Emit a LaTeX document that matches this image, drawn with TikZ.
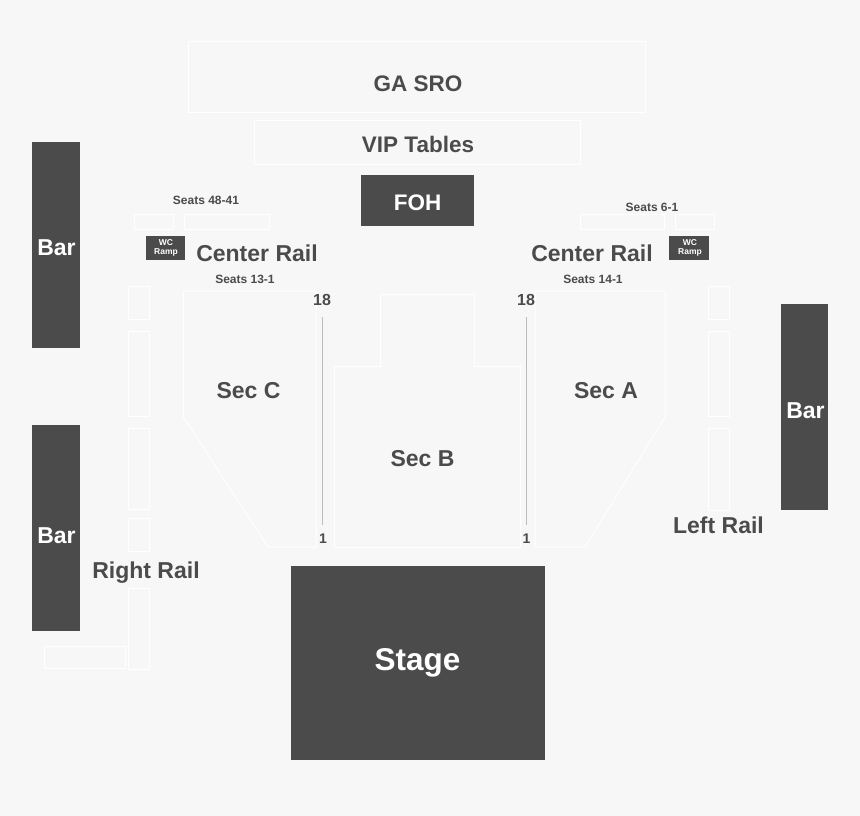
\documentclass[tikz,border=0pt]{standalone}
\usepackage{fontspec}
\setmainfont{Liberation Sans}
\definecolor{bgc}{HTML}{F7F7F7}
\definecolor{darkc}{HTML}{4B4B4B}
\definecolor{linec}{HTML}{BBBBBB}
\tikzset{
  outl/.style={draw=white,line width=1pt,line join=miter},
  block/.style={fill=darkc,draw=none},
  lab/.style={inner sep=0pt,text=darkc,font=\bfseries\fontsize{#1}{#1}\selectfont},
  wlab/.style={inner sep=0pt,text=white,font=\bfseries\fontsize{#1}{#1}\selectfont},
  wc/.style={inner sep=0pt,text=white,align=center,font=\bfseries\fontsize{8.5}{9.5}\selectfont},
  aisle/.style={draw=linec,line width=1.2pt}
}
\begin{document}
\begin{tikzpicture}[x=1pt,y=-1pt]
\useasboundingbox (0,0) rectangle (860,816);
\fill[bgc] (0,0) rectangle (860,816);
% outlined areas
\draw[outl] (188.5,41.5) rectangle (645.5,112.5);
\draw[outl] (254,120.5) rectangle (580,164);
\draw[outl] (134,214) rectangle (173,229);
\draw[outl] (184,214) rectangle (269,229);
\draw[outl] (580,214) rectangle (664,229);
\draw[outl] (675,214) rectangle (714,229);
% right rail
\draw[outl] (128,286) rectangle (149,319);
\draw[outl] (128,331) rectangle (149,416);
\draw[outl] (128,428) rectangle (149,509);
\draw[outl] (128,518) rectangle (149,551);
\draw[outl] (128,588) rectangle (149,669);
\draw[outl] (44,646) rectangle (125,668);
% left rail
\draw[outl] (708,286) rectangle (729,319);
\draw[outl] (708,331) rectangle (729,416);
\draw[outl] (708,428) rectangle (729,510);
% sections
\draw[outl] (183.5,291) -- (316,291) -- (316,547) -- (268,547) -- (183.5,417) -- cycle;
\draw[outl] (334,547) -- (334,366) -- (380,366) -- (380,294) -- (474,294) -- (474,366) -- (520,366) -- (520,547) -- cycle;
\draw[outl] (535,291) -- (665,291) -- (665,417) -- (585,547) -- (535,547) -- cycle;
% dark blocks
\draw[block] (361,175) rectangle (474,226);
\draw[block] (32,142) rectangle (80,348);
\draw[block] (32,425) rectangle (80,631);
\draw[block] (781,304) rectangle (828,510);
\draw[block] (291,566) rectangle (545,760);
\draw[block] (146,236) rectangle (185,260);
\draw[block] (669,236) rectangle (709,260);
% aisle lines
\coordinate (a1) at (322.5,317); \coordinate (a2) at (322.5,525);
\coordinate (b1) at (526.5,317); \coordinate (b2) at (526.5,525);
\draw[aisle] (a1) -- (a2);
\draw[aisle] (b1) -- (b2);
% labels
\node[lab=22.5] (ga) at (418,83.5) {GA SRO};
\node[lab=22.5] (vip) at (418,144) {VIP Tables};
\node[wlab=22.5] (foh) at (417.5,202.5) {FOH};
\node[wlab=23] (bar1) at (56.5,247.5) {Bar};
\node[wlab=23] (bar2) at (56.5,535.5) {Bar};
\node[wlab=23] (bar3) at (805.5,410.5) {Bar};
\node[wlab=31.5] (stage) at (417.5,663) {Stage};
\node[lab=23] (crl) at (257,253.5) {Center Rail};
\node[lab=23] (crr) at (592,253.5) {Center Rail};
\node[lab=12] (s1) at (206,200) {Seats 48-41};
\node[lab=12] (s2) at (245,279) {Seats 13-1};
\node[lab=12] (s3) at (652,207) {Seats 6-1};
\node[lab=12] (s4) at (593,279) {Seats 14-1};
\node[wc] (wc1) at (166,248) {WC\\Ramp};
\node[wc] (wc2) at (690,248) {WC\\Ramp};
\node[lab=23] (secc) at (248.5,390.5) {Sec C};
\node[lab=23] (seca) at (606,390.5) {Sec A};
\node[lab=23] (secb) at (422.5,458.5) {Sec B};
\node[lab=23] (lr) at (718.5,525.5) {Left Rail};
\node[lab=23] (rr) at (146,573) {Right Rail};
\node[lab=16] (n1) at (322,300) {18};
\node[lab=16] (n2) at (526,300) {18};
\node[lab=14] (n3) at (323,539) {1};
\node[lab=14] (n4) at (526.5,539) {1};
\end{tikzpicture}
\end{document}
